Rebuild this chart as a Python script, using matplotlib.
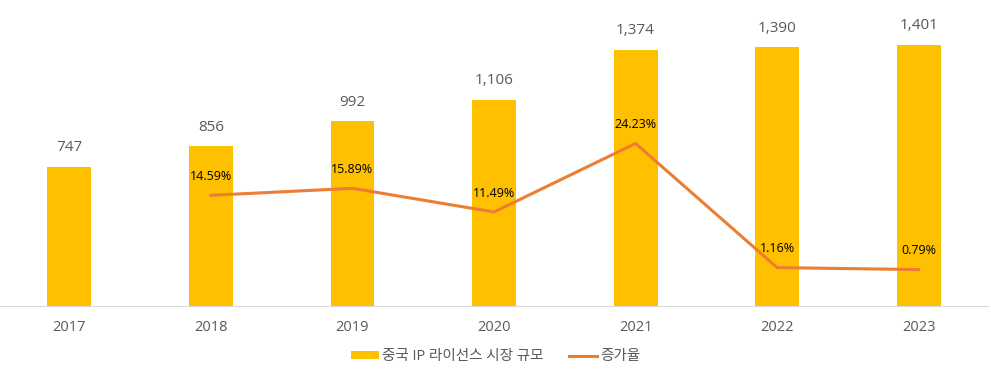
import numpy as np
import matplotlib.pyplot as plt
from matplotlib.patches import Patch
from matplotlib.lines import Line2D

plt.rcParams['font.family'] = ['Open Sans', 'Noto Sans CJK KR', 'DejaVu Sans']

years = ['2017', '2018', '2019', '2020', '2021', '2022', '2023']
market = [747, 856, 992, 1106, 1374, 1390, 1401]
growth_years = ['2018', '2019', '2020', '2021', '2022', '2023']
growth = [14.59, 15.89, 11.49, 24.23, 1.16, 0.79]

bar_color = '#FFC000'
line_color = '#ED7D31'
text_color = '#595959'

fig = plt.figure(figsize=(9.91, 3.73), dpi=100)
ax = fig.add_axes([0.0, 0.18, 0.997, 0.80])
x = np.arange(len(years))
ax.bar(x, market, width=0.31, color=bar_color, zorder=2)
ax.set_xlim(-0.49, len(years) - 0.51)
ax.set_ylim(0, 1600)
for xi, v in zip(x, market):
    ax.annotate(f'{v:,}', (xi, v), xytext=(0, 8), textcoords='offset points',
                ha='center', va='bottom', fontsize=11, color=text_color)

ax.set_xticks(x)
ax.set_xticklabels(years, fontsize=10.5, color=text_color)
ax.tick_params(axis='x', length=0, pad=10)
ax.set_yticks([])
for s in ('top', 'right', 'left'):
    ax.spines[s].set_visible(False)
ax.spines['bottom'].set_color('#D9D9D9')

ax2 = ax.twinx()
gx = [years.index(y) for y in growth_years]
ax2.plot(gx, growth, color=line_color, lw=2.2, zorder=3)
ax2.set_ylim(-5.95, 49.5)
ax2.set_yticks([])
for s in ax2.spines.values():
    s.set_visible(False)
for xi, v in zip(gx, growth):
    ax2.annotate(f'{v:.2f}%', (xi, v), xytext=(0, 9), textcoords='offset points',
                 ha='center', va='bottom', fontsize=9, color='black')

handles = [Patch(facecolor=bar_color, edgecolor='none'),
           Line2D([0], [0], color=line_color, lw=2.2)]
fig.legend(handles, ['중국 IP 라이선스 시장 규모', '증가율'], loc='center',
           bbox_to_anchor=(0.5, 0.043), ncol=2, frameon=False, fontsize=10.5,
           labelcolor=text_color, handlelength=1.9, handleheight=0.5,
           columnspacing=1.8, handletextpad=0.2)

fig.savefig('out.png', dpi=100)
